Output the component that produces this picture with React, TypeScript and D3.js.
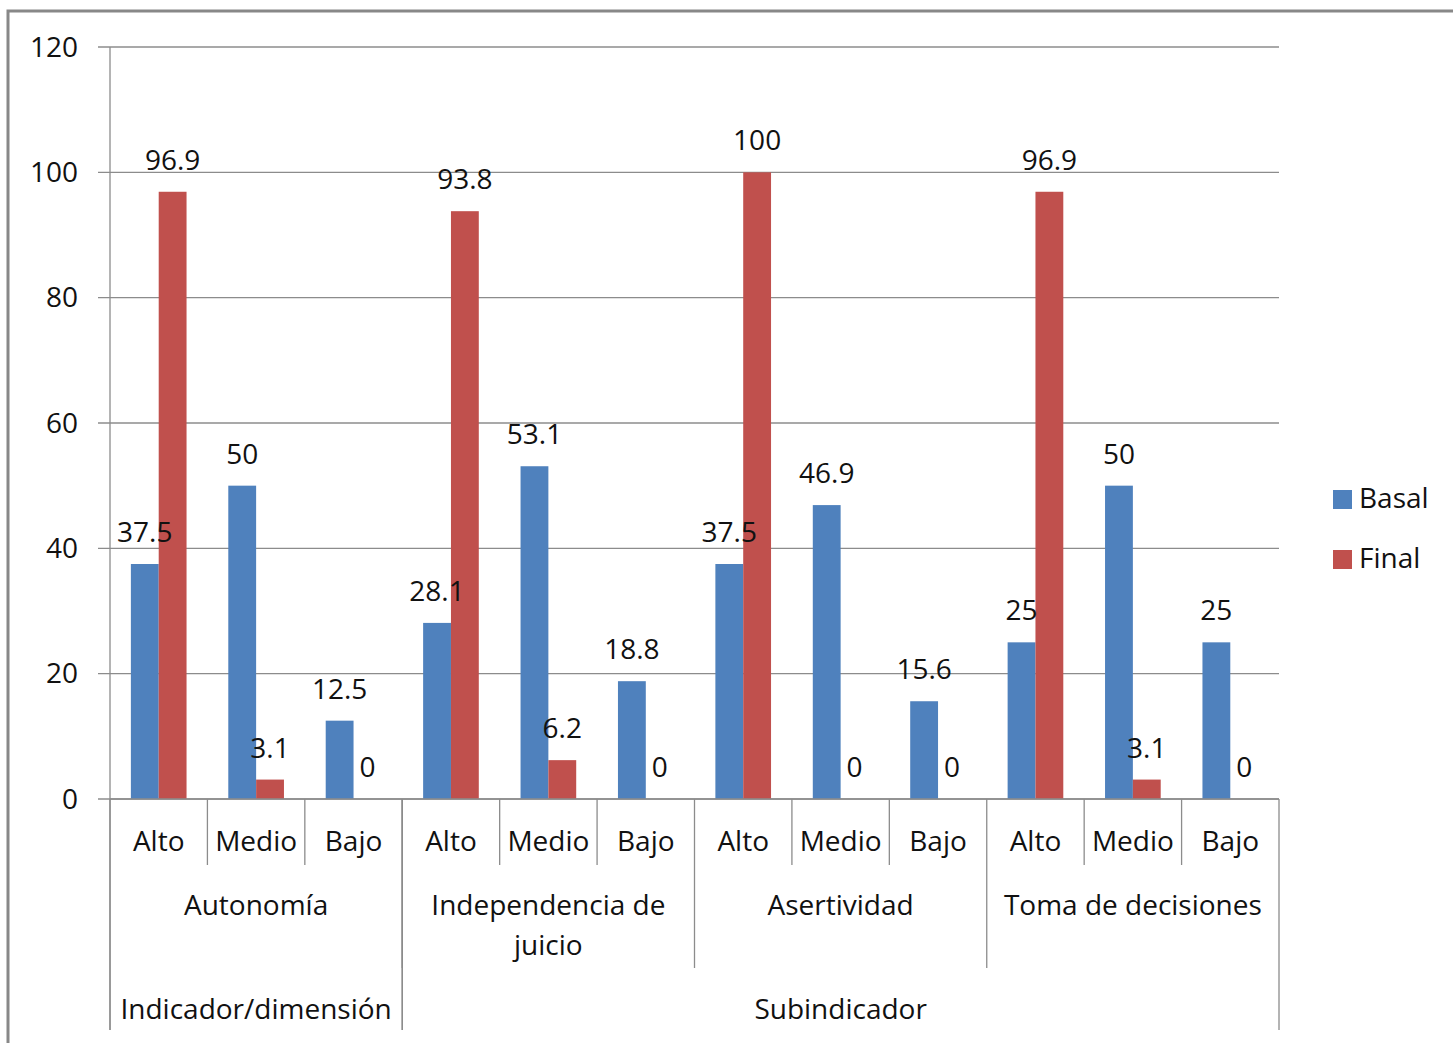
import React from "react";
import * as d3 from "d3";

const levels = ["Alto", "Medio", "Bajo"];
const groups = [
  ["Autonomía"],
  ["Independencia de", "juicio"],
  ["Asertividad"],
  ["Toma de decisiones"],
];
const topGroups = [
  { label: "Indicador/dimensión", span: 1 },
  { label: "Subindicador", span: 3 },
];
const seriesNames = ["Basal", "Final"];
const basal = [37.5, 50, 12.5, 28.1, 53.1, 18.8, 37.5, 46.9, 15.6, 25, 50, 25];
const final = [96.9, 3.1, 0, 93.8, 6.2, 0, 100, 0, 0, 96.9, 3.1, 0];
const yTicks = [0, 20, 40, 60, 80, 100, 120];
const colors = ["#4F81BD", "#C0504D"];

const W = 1453;
const H = 1043;
const left = 110;
const right = 1279;
const top = 47;
const bottom = 799;
const FONT = "'Open Sans', 'DejaVu Sans', sans-serif";
const FS = 28;
const GRID = "#8c8c8c";
const TEXT = "#111";

export default function App() {
  const idx = d3.range(basal.length);
  const x0 = d3.scaleBand<number>().domain(idx).range([left, right]).paddingInner(0).paddingOuter(0);
  const x1 = d3.scaleBand<string>().domain(seriesNames).range([0, x0.bandwidth()]).paddingInner(0).paddingOuter(0.75);
  const y = d3.scaleLinear().domain([0, 120]).range([bottom, top]);
  const values = [basal, final];
  const step = x0.bandwidth();
  const gStart = (g: number) => left + g * 3 * step;

  const fmt = (v: number) => String(v);

  let acc = 0;
  const topRanges = topGroups.map((t) => {
    const s = acc;
    acc += t.span;
    return { ...t, x0: gStart(s), x1: gStart(acc) };
  });

  const barData = values.flatMap((vals, si) =>
    vals.map((v, i) => {
      const bx = (x0(i) as number) + (x1(seriesNames[si]) as number);
      return { si, i, v, bx, bw: x1.bandwidth() };
    })
  );

  return (
    <svg width={W} height={H} style={{ position: "absolute", left: 0, top: 0, background: "#fff" }} fontFamily={FONT}>
      <rect x={0} y={0} width={W} height={H} fill="#fff" />
      {/* chart border */}
      <rect x={8} y={11} width={W + 20} height={H + 20} fill="none" stroke="#888" strokeWidth={3} />

      {/* gridlines and ticks */}
      {yTicks.map((t) => (
        <g key={t}>
          <line x1={98} x2={right} y1={y(t)} y2={y(t)} stroke={GRID} strokeWidth={1.3} />
          <text x={78} y={y(t) + 9.5} textAnchor="end" fontSize={FS} fill={TEXT}>
            {t}
          </text>
        </g>
      ))}

      {/* bars */}
      {barData.map((d) => (
        <rect key={`b-${d.si}-${d.i}`} x={d.bx} y={y(d.v)} width={d.bw} height={y(0) - y(d.v)} fill={colors[d.si]} />
      ))}

      {/* axis lines */}
      <line x1={left} x2={left} y1={top} y2={1030} stroke={GRID} strokeWidth={1.3} />
      <line x1={left} x2={right} y1={bottom} y2={bottom} stroke={GRID} strokeWidth={1.3} />

      {/* data labels on top */}
      {barData.map((d) => (
        <text key={`t-${d.si}-${d.i}`} x={d.bx + d.bw / 2} y={y(d.v) - 22} textAnchor="middle" fontSize={FS} fill={TEXT}>
          {fmt(d.v)}
        </text>
      ))}

      {/* level 1 separators & labels */}
      {idx.map((i) => {
        const xs = x0(i) as number;
        const isGroupStart = i % 3 === 0;
        return (
          <g key={`l1-${i}`}>
            {!isGroupStart && <line x1={xs} x2={xs} y1={bottom} y2={865} stroke={GRID} strokeWidth={1.3} />}
            <text x={xs + step / 2} y={851} textAnchor="middle" fontSize={FS} fill={TEXT}>
              {levels[i % 3]}
            </text>
          </g>
        );
      })}

      {/* level 2 separators & labels */}
      {groups.map((g, gi) => {
        const xs = gStart(gi);
        const xe = gStart(gi + 1);
        return (
          <g key={`l2-${gi}`}>
            {gi > 0 && <line x1={xs} x2={xs} y1={bottom} y2={968} stroke={GRID} strokeWidth={1.3} />}
            {g.map((ln, li) => (
              <text key={li} x={(xs + xe) / 2} y={915 + li * 40} textAnchor="middle" fontSize={FS} fill={TEXT}>
                {ln}
              </text>
            ))}
          </g>
        );
      })}

      {/* level 3 separators & labels */}
      {topRanges.map((t, ti) => (
        <g key={`l3-${ti}`}>
          <line x1={t.x0} x2={t.x0} y1={bottom} y2={1030} stroke={GRID} strokeWidth={1.3} />
          <line x1={t.x1} x2={t.x1} y1={bottom} y2={1030} stroke={GRID} strokeWidth={1.3} />
          <text x={(t.x0 + t.x1) / 2} y={1019} textAnchor="middle" fontSize={FS} fill={TEXT}>
            {t.label}
          </text>
        </g>
      ))}

      {/* legend */}
      {seriesNames.map((s, si) => (
        <g key={s} transform={`translate(1333, ${490 + si * 60})`}>
          <rect x={0} y={0} width={19} height={19} fill={colors[si]} />
          <text x={26} y={18} fontSize={FS} fill={TEXT}>
            {s}
          </text>
        </g>
      ))}
    </svg>
  );
}
